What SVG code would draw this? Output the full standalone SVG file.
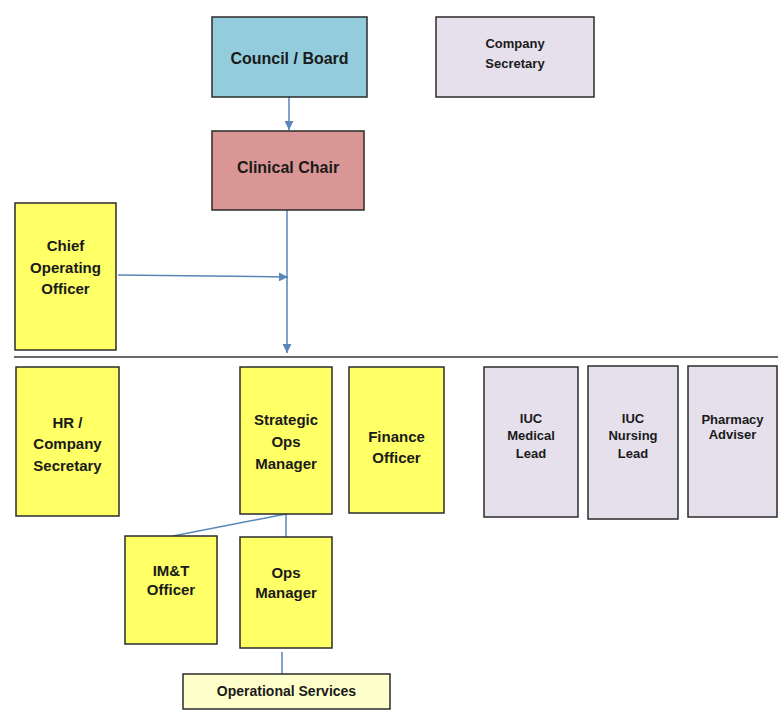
<svg xmlns="http://www.w3.org/2000/svg" width="779" height="719" viewBox="0 0 779 719">
<defs>
<style>
.box{stroke:#2b2b2b;stroke-width:1.5}
.blue{fill:#93cddd}
.red{fill:#d99694}
.lilac{fill:#e5e0ec}
.yel{fill:#ffff66}
.pale{fill:#ffffcc}
text{font-family:"Liberation Sans",Arial,sans-serif;font-weight:bold;fill:#1a1a1a;text-anchor:middle;dominant-baseline:central}
.t16{font-size:16px}
.t15{font-size:15px}
.t14{font-size:14px}
.t13{font-size:13px}
.conn{stroke:#5a86b8;stroke-width:1.5;fill:none}
</style>
<marker id="ah" viewBox="0 0 10 10" refX="10" refY="5" markerWidth="9" markerHeight="9" orient="auto" markerUnits="userSpaceOnUse">
<path d="M0,0 L10,5 L0,10 z" fill="#5a86b8"/>
</marker>
</defs>
<rect width="779" height="719" fill="#ffffff"/>

<g id="connectors">
<line class="conn" x1="289" y1="97" x2="289" y2="130" marker-end="url(#ah)"/>
<line class="conn" x1="287" y1="210" x2="287" y2="353" marker-end="url(#ah)"/>
<line class="conn" x1="118" y1="275" x2="288" y2="277" marker-end="url(#ah)"/>
<line class="conn" x1="286" y1="514" x2="286" y2="537"/>
<line class="conn" x1="286" y1="514" x2="173" y2="536"/>
<line class="conn" x1="282" y1="652" x2="282" y2="674"/>
</g>

<g id="divider">
<line x1="14" y1="357" x2="778" y2="357" stroke="#3a3a3a" stroke-width="1.5"/>
</g>

<g id="council-board">
<rect class="box blue" x="212" y="17" width="155" height="80"/>
<text class="t16" x="289.5" y="58">Council / Board</text>
</g>

<g id="company-secretary">
<rect class="box lilac" x="436" y="17" width="158" height="80"/>
<text class="t13" x="515" y="43">Company</text>
<text class="t13" x="515" y="63">Secretary</text>
</g>

<g id="clinical-chair">
<rect class="box red" x="212" y="131" width="152" height="79"/>
<text class="t16" x="288" y="167">Clinical Chair</text>
</g>

<g id="chief-operating-officer">
<rect class="box yel" x="15" y="203" width="101" height="147"/>
<text class="t15" x="65.5" y="245">Chief</text>
<text class="t15" x="65.5" y="267">Operating</text>
<text class="t15" x="65.5" y="288">Officer</text>
</g>

<g id="hr-company-secretary">
<rect class="box yel" x="16" y="367" width="103" height="149"/>
<text class="t15" x="67.5" y="422">HR /</text>
<text class="t15" x="67.5" y="443">Company</text>
<text class="t15" x="67.5" y="465">Secretary</text>
</g>

<g id="strategic-ops-manager">
<rect class="box yel" x="240" y="367" width="92" height="147"/>
<text class="t15" x="286" y="419">Strategic</text>
<text class="t15" x="286" y="441">Ops</text>
<text class="t15" x="286" y="463">Manager</text>
</g>

<g id="finance-officer">
<rect class="box yel" x="349" y="367" width="95" height="146"/>
<text class="t15" x="396.5" y="436">Finance</text>
<text class="t15" x="396.5" y="457">Officer</text>
</g>

<g id="iuc-medical-lead">
<rect class="box lilac" x="484" y="367" width="94" height="150"/>
<text class="t13" x="531" y="418">IUC</text>
<text class="t13" x="531" y="435">Medical</text>
<text class="t13" x="531" y="453">Lead</text>
</g>

<g id="iuc-nursing-lead">
<rect class="box lilac" x="588" y="366" width="90" height="153"/>
<text class="t13" x="633" y="418">IUC</text>
<text class="t13" x="633" y="435">Nursing</text>
<text class="t13" x="633" y="453">Lead</text>
</g>

<g id="pharmacy-adviser">
<rect class="box lilac" x="688" y="366" width="89" height="151"/>
<text class="t13" x="732.5" y="419">Pharmacy</text>
<text class="t13" x="732.5" y="434">Adviser</text>
</g>

<g id="imt-officer">
<rect class="box yel" x="125" y="536" width="92" height="108"/>
<text class="t15" x="171" y="570">IM&amp;T</text>
<text class="t15" x="171" y="589">Officer</text>
</g>

<g id="ops-manager">
<rect class="box yel" x="240" y="537" width="92" height="111"/>
<text class="t15" x="286" y="572">Ops</text>
<text class="t15" x="286" y="592">Manager</text>
</g>

<g id="operational-services">
<rect class="box pale" x="183" y="674" width="207" height="35"/>
<text class="t14" x="286.5" y="691">Operational Services</text>
</g>
</svg>
